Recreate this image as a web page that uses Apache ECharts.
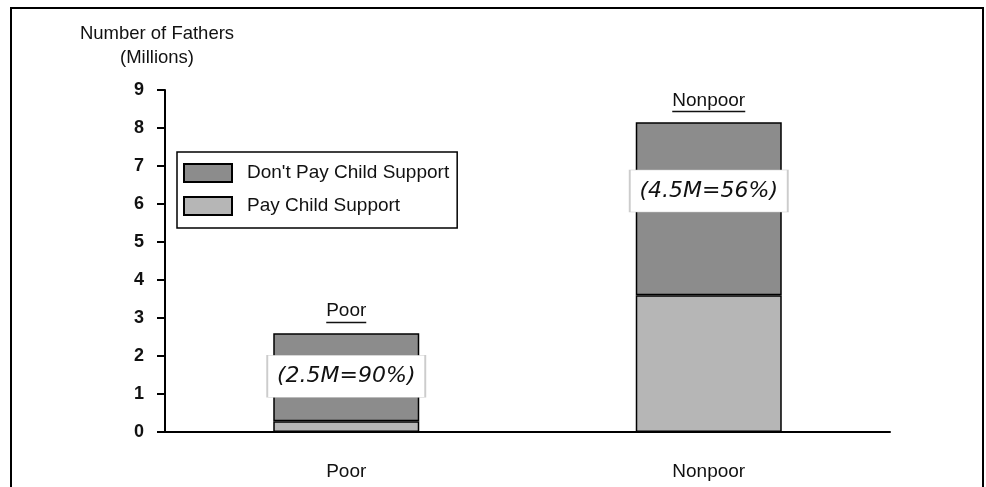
<!DOCTYPE html>
<html>
<head>
<meta charset="utf-8">
<script src="https://cdn.jsdelivr.net/npm/echarts@6/dist/echarts.min.js"></script>
<style>
  html, body { margin: 0; padding: 0; background: #fff; }
  #chart { width: 986px; height: 487px; }
</style>
</head>
<body>
<div id="chart"></div>
<script>
const categories = ['Poor', 'Nonpoor'];
const payValues = [0.28, 3.6];
const dontPayValues = [2.32, 4.55];
const yTicks = { min: 0, max: 9, interval: 1 };
const notes = ['(2.5M=90%)', '(4.5M=56%)'];
const noteLevels = [1.47, 6.34];
const underlineWidths = { Poor: 40, Nonpoor: 73 };

const FONT = "'Liberation Sans', Arial, sans-serif";

const chart = echarts.init(document.getElementById('chart'));

chart.setOption({
    backgroundColor: '#fff',
    animation: false,
    textStyle: { fontFamily: FONT },
    graphic: [{
        type: 'rect',
        shape: { x: 11, y: 8, width: 972, height: 500 },
        style: { fill: 'none', stroke: '#000', lineWidth: 2 },
        silent: true
    }],
    legend: {
        data: ["Don't Pay Child Support", 'Pay Child Support'],
        orient: 'vertical',
        left: 177,
        top: 152,
        padding: [11, 8, 12, 6],
        itemWidth: 48,
        itemHeight: 18,
        itemGap: 13,
        borderColor: '#000',
        borderWidth: 1.5,
        backgroundColor: '#fff',
        icon: 'rect',
        textStyle: { fontSize: 19, color: '#111', padding: [0, 0, 0, 10], fontFamily: FONT }
    },
    grid: { left: 165, right: 96, top: 90, bottom: 55, containLabel: false },
    xAxis: {
        type: 'category',
        data: categories,
        axisLine: { lineStyle: { color: '#000', width: 2 } },
        axisTick: { show: false },
        axisLabel: { fontSize: 19, color: '#111', margin: 30, fontFamily: FONT }
    },
    yAxis: {
        type: 'value',
        min: yTicks.min,
        max: yTicks.max,
        interval: yTicks.interval,
        name: 'Number of Fathers\n(Millions)',
        nameLocation: 'end',
        nameGap: 20,
        nameTextStyle: { fontSize: 18.5, color: '#111', align: 'center', lineHeight: 24, padding: [0, 16, 0, 0], fontFamily: FONT },
        axisLine: { show: true, lineStyle: { color: '#000', width: 2 } },
        axisTick: { show: true, length: 8, lineStyle: { color: '#000', width: 2 } },
        axisLabel: { fontSize: 18, fontWeight: 'bold', color: '#111', margin: 21, fontFamily: FONT },
        splitLine: { show: false }
    },
    series: [
        {
            name: 'Pay Child Support',
            type: 'bar',
            stack: 'fathers',
            barWidth: 146,
            data: payValues,
            itemStyle: { color: '#b6b6b6', borderColor: '#000', borderWidth: 1.5 }
        },
        {
            name: "Don't Pay Child Support",
            type: 'bar',
            stack: 'fathers',
            barWidth: 146,
            data: dontPayValues,
            itemStyle: { color: '#8c8c8c', borderColor: '#000', borderWidth: 1.5 },
            label: {
                show: true,
                position: 'top',
                distance: 10,
                formatter: p => '{t|' + p.name + '}\n{u' + p.dataIndex + '|}',
                rich: {
                    t: { fontSize: 19, color: '#111', fontFamily: FONT, lineHeight: 21 },
                    u0: { width: underlineWidths.Poor, height: 1.5, backgroundColor: '#111' },
                    u1: { width: underlineWidths.Nonpoor, height: 1.5, backgroundColor: '#111' }
                }
            },
            markPoint: {
                symbol: 'rect',
                symbolSize: [158, 42],
                itemStyle: { color: '#fff', borderColor: '#ccc', borderWidth: 1 },
                label: {
                    show: true,
                    position: 'inside',
                    fontSize: 22,
                    fontStyle: 'italic',
                    color: '#111',
                    fontFamily: "'DejaVu Sans', sans-serif",
                    formatter: p => p.name
                },
                data: categories.map((c, i) => ({ name: notes[i], coord: [c, noteLevels[i]] }))
            }
        }
    ]
});
</script>
</body>
</html>
